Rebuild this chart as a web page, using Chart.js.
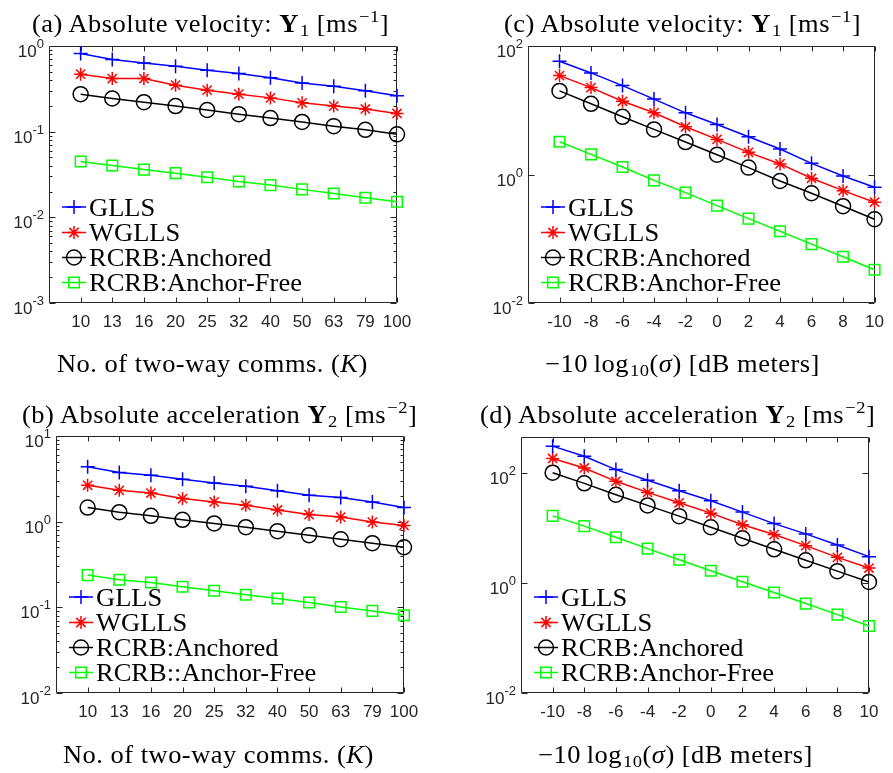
<!DOCTYPE html>
<html><head><meta charset="utf-8">
<script src="https://cdn.jsdelivr.net/npm/chart.js@4.4.1/dist/chart.umd.min.js"></script>
<style>
html,body{margin:0;padding:0;background:#fff;}
body{width:893px;height:773px;position:relative;overflow:hidden;}
canvas{position:absolute;}
.t{position:absolute;font-family:'Liberation Serif','Times New Roman',serif;font-size:25px;line-height:25px;white-space:nowrap;color:#000;transform:scaleX(1.06);transform-origin:0 0;letter-spacing:0.45px;}
.t sup,.t sub{font-size:17.5px;line-height:0;position:relative;vertical-align:baseline;}
.t sup{top:-10px;margin-left:1px;}
.t sub{top:4px;margin-left:1px;}
</style></head><body>
<canvas id="ca" width="445" height="390" style="left:0;top:0"></canvas>
<canvas id="cc" width="448" height="390" style="left:445px;top:0"></canvas>
<canvas id="cb" width="445" height="383" style="left:0;top:390px"></canvas>
<canvas id="cd" width="448" height="383" style="left:445px;top:390px"></canvas>

<div class="t" style="left:32px;top:11px">(a) Absolute velocity: <b>Y</b><sub>1</sub> [ms<sup>−1</sup>]</div>
<div class="t" style="left:504px;top:11px">(c) Absolute velocity: <b>Y</b><sub>1</sub> [ms<sup>−1</sup>]</div>
<div class="t" style="left:22px;top:402px">(b) Absolute acceleration <b>Y</b><sub>2</sub> [ms<sup>−2</sup>]</div>
<div class="t" style="left:480px;top:402px">(d) Absolute acceleration <b>Y</b><sub>2</sub> [ms<sup>−2</sup>]</div>
<div class="t" style="left:57px;top:351px">No. of two-way comms. (<i>K</i>)</div>
<div class="t" style="left:545px;top:351px">−10&#8201;log<sub>10</sub>(<i>σ</i>) [dB meters]</div>
<div class="t" style="left:63px;top:742px">No. of two-way comms. (<i>K</i>)</div>
<div class="t" style="left:538px;top:742px">−10&#8201;log<sub>10</sub>(<i>σ</i>) [dB meters]</div>

<script>
// ---------- data ----------
const kLabels = ['10','13','16','20','25','32','40','50','63','79','100'];
const kIndex = [0,1,2,3,4,5,6,7,8,9,10];
const sigmaTicks = [-10,-8,-6,-4,-2,0,2,4,6,8,10];
const sigmaLabels = ['-10','-8','-6','-4','-2','0','2','4','6','8','10'];

const seriesNames = ['GLLS','WGLLS','RCRB:Anchored','RCRB:Anchor-Free'];
const seriesNamesB = ['GLLS','WGLLS','RCRB:Anchored','RCRB::Anchor-Free'];

// (a) velocity vs K
const velK_GLLS  = [0.815,0.694,0.634,0.580,0.521,0.477,0.425,0.371,0.340,0.300,0.262];
const velK_WGLLS = [0.469,0.417,0.417,0.349,0.305,0.274,0.248,0.217,0.199,0.184,0.163];
const velK_Anch  = [0.274,0.244,0.221,0.199,0.179,0.160,0.144,0.130,0.116,0.105,0.093];
const velK_Free  = [0.0448,0.0402,0.0361,0.0328,0.0294,0.0262,0.0238,0.0212,0.0190,0.0169,0.0152];
// (b) acceleration vs K
const accK_GLLS  = [4.37,3.75,3.49,3.13,2.83,2.59,2.30,2.03,1.91,1.70,1.46];
const accK_WGLLS = [2.66,2.32,2.16,1.86,1.70,1.55,1.37,1.21,1.13,0.989,0.904];
const accK_Anch  = [1.46,1.29,1.17,1.05,0.953,0.863,0.775,0.695,0.624,0.561,0.503];
const accK_Free  = [0.238,0.210,0.195,0.174,0.156,0.140,0.127,0.114,0.101,0.0909,0.0809];
// (c) velocity vs sigma
const velS_GLLS  = [57.8,38.1,24.2,14.9,9.12,6.01,3.87,2.49,1.49,0.948,0.632];
const velS_WGLLS = [34.6,22.5,13.8,9.12,5.53,3.52,2.21,1.46,0.873,0.561,0.370];
const velS_Anch  = [20.0,12.6,7.91,5.03,3.20,2.03,1.28,0.793,0.510,0.321,0.201];
const velS_Free  = [3.23,2.06,1.31,0.811,0.522,0.328,0.206,0.131,0.0824,0.0524,0.0329];
// (d) acceleration vs sigma
const accS_GLLS  = [307,201,115,73.5,47.6,31.2,19.4,12.0,7.80,4.91,3.01];
const accS_WGLLS = [183,123,70.4,44.3,28.7,18.6,11.4,7.58,4.77,2.92,1.87];
const accS_Anch  = [101,64.7,40.2,25.7,16.4,10.3,6.50,4.09,2.58,1.64,1.04];
const accS_Free  = [16.6,10.8,6.78,4.21,2.65,1.67,1.05,0.670,0.422,0.266,0.165];

// y-axis decade exponents (tick labels 10^e)
const yExpA = [-3,-2,-1,0];
const yExpB = [-2,-1,0,1];
const yExpC = [-2,0,2];
const yExpD = [-2,0,2];

// ---------- styling ----------
const colors = ['#0000ff','#ff0000','#000000','#00ff00'];
const styles = ['cross','star','circle','rect'];
const radii = [7,6.5,7.5,7.5];
const AX = '#262626';
const LW = 1.5;

function drawMarker(ctx, style, x, y, r) {
  ctx.beginPath();
  if (style === 'cross' || style === 'star') {
    ctx.moveTo(x - r, y); ctx.lineTo(x + r, y);
    ctx.moveTo(x, y - r); ctx.lineTo(x, y + r);
    if (style === 'star') {
      const d = r * Math.SQRT1_2;
      ctx.moveTo(x - d, y - d); ctx.lineTo(x + d, y + d);
      ctx.moveTo(x - d, y + d); ctx.lineTo(x + d, y - d);
    }
  } else if (style === 'circle') {
    ctx.arc(x, y, r, 0, Math.PI * 2);
  } else {
    const s = r * Math.SQRT1_2;
    ctx.rect(x - s, y - s, 2 * s, 2 * s);
  }
  ctx.stroke();
}

function axesPlugin(p) {
  return {
    id: 'axes_' + p.id,
    beforeDatasetsDraw(chart) {
      const ctx = chart.ctx, a = chart.chartArea, xs = chart.scales.x, ys = chart.scales.y;
      const L = Math.round(a.left) + 0.5, R = Math.round(a.right) - 0.5;
      const T = Math.round(a.top) + 0.5, B = Math.round(a.bottom) - 0.5;
      ctx.save();
      ctx.strokeStyle = AX; ctx.lineWidth = 1;
      ctx.beginPath();
      ctx.rect(L, T, R - L, B - T);
      xs.ticks.forEach(t => {
        const x = Math.round(xs.getPixelForValue(t.value)) + 0.5;
        ctx.moveTo(x, B); ctx.lineTo(x, B - 5);
        ctx.moveTo(x, T); ctx.lineTo(x, T + 5);
      });
      p.yExp.forEach(e => {
        const y = Math.round(ys.getPixelForValue(Math.pow(10, e))) + 0.5;
        ctx.moveTo(L, y); ctx.lineTo(L + 6, y);
        ctx.moveTo(R, y); ctx.lineTo(R - 6, y);
      });
      if (p.minor) {
        const e0 = p.yExp[0], e1 = p.yExp[p.yExp.length - 1];
        for (let e = e0; e < e1; e++) {
          for (let m = 2; m <= 9; m++) {
            const y = Math.round(ys.getPixelForValue(m * Math.pow(10, e))) + 0.5;
            ctx.moveTo(L, y); ctx.lineTo(L + 3, y);
            ctx.moveTo(R, y); ctx.lineTo(R - 3, y);
          }
        }
      }
      ctx.stroke();
      ctx.restore();
    },
    afterDraw(chart) {
      const ctx = chart.ctx, a = chart.chartArea, ys = chart.scales.y;
      ctx.save();
      // y tick labels 10^e
      ctx.fillStyle = AX;
      ctx.textAlign = 'right';
      ctx.textBaseline = 'alphabetic';
      p.yExp.forEach(e => {
        const y = ys.getPixelForValue(Math.pow(10, e));
        const es = String(e);
        ctx.font = '13px "Liberation Sans", Arial, sans-serif';
        const ew = ctx.measureText(es).width;
        ctx.fillText(es, a.left - 5, y + 2);
        ctx.font = '17px "Liberation Sans", Arial, sans-serif';
        ctx.fillText('10', a.left - 5 - ew, y + 11);
      });
      // legend
      const offs = [-96, -70.5, -45.5, -20.5];
      chart.data.datasets.forEach((ds, i) => {
        const y = a.bottom + offs[i];
        const x0 = a.left + 13, x1 = a.left + 37;
        ctx.strokeStyle = colors[i]; ctx.lineWidth = LW;
        ctx.beginPath(); ctx.moveTo(x0, y); ctx.lineTo(x1, y); ctx.stroke();
        drawMarker(ctx, styles[i], (x0 + x1) / 2, y, radii[i]);
        ctx.save();
        ctx.fillStyle = '#000';
        ctx.textAlign = 'left';
        ctx.font = '25px "Liberation Serif", "Times New Roman", serif';
        ctx.translate(a.left + 40, y + 8.5);
        ctx.scale(1.06, 1);
        ctx.fillText(ds.label, 0, 0);
        ctx.restore();
      });
      ctx.restore();
    }
  };
}

function makePanel(p) {
  const datasets = p.series.map((vals, i) => ({
    label: p.names[i],
    data: vals.map((v, j) => ({ x: p.xValues[j], y: v })),
    borderColor: colors[i],
    backgroundColor: 'rgba(0,0,0,0)',
    pointBackgroundColor: 'rgba(0,0,0,0)',
    pointBorderColor: colors[i],
    pointStyle: styles[i],
    pointRadius: radii[i],
    pointHoverRadius: radii[i],
    pointBorderWidth: LW,
    borderWidth: LW,
    tension: 0,
    clip: false
  }));
  new Chart(document.getElementById(p.id), {
    type: 'line',
    data: { datasets },
    options: {
      responsive: false, animation: false, devicePixelRatio: 1, events: [],
      layout: { padding: { left: 0, top: p.area.t, right: p.W - p.area.r, bottom: 0 } },
      plugins: { legend: { display: false }, tooltip: { enabled: false }, title: { display: false } },
      scales: {
        x: {
          type: 'linear', min: p.xmin, max: p.xmax, bounds: 'data',
          grid: { display: false, drawTicks: false }, border: { display: false },
          afterBuildTicks: s => { s.ticks = p.xTicks.map(v => ({ value: v })); },
          afterFit: s => { s.height = p.H - p.area.b; },
          ticks: {
            autoSkip: false, maxRotation: 0, minRotation: 0, padding: 9, color: AX,
            font: { family: '"Liberation Sans", Arial, sans-serif', size: 17 },
            callback: (v, i) => p.xTickLabels[i]
          }
        },
        y: {
          type: 'logarithmic', min: p.ymin, max: p.ymax,
          grid: { display: false, drawTicks: false }, border: { display: false },
          ticks: { display: false },
          afterFit: s => { s.width = p.area.l; }
        }
      }
    },
    plugins: [axesPlugin(p)]
  });
}

makePanel({ id: 'ca', W: 445, H: 390, area: { l: 49, t: 46, r: 397, b: 303 },
  xValues: kIndex, xTicks: kIndex, xTickLabels: kLabels, xmin: -1, xmax: 10,
  ymin: 1e-3, ymax: 1, yExp: yExpA, minor: true,
  names: seriesNames, series: [velK_GLLS, velK_WGLLS, velK_Anch, velK_Free] });
makePanel({ id: 'cc', W: 448, H: 390, area: { l: 83, t: 46, r: 432, b: 303 },
  xValues: sigmaTicks, xTicks: sigmaTicks, xTickLabels: sigmaLabels, xmin: -12, xmax: 10,
  ymin: 1e-2, ymax: 100, yExp: yExpC, minor: false,
  names: seriesNames, series: [velS_GLLS, velS_WGLLS, velS_Anch, velS_Free] });
makePanel({ id: 'cb', W: 445, H: 383, area: { l: 56, t: 46, r: 404, b: 303 },
  xValues: kIndex, xTicks: kIndex, xTickLabels: kLabels, xmin: -1, xmax: 10,
  ymin: 1e-2, ymax: 10, yExp: yExpB, minor: true,
  names: seriesNamesB, series: [accK_GLLS, accK_WGLLS, accK_Anch, accK_Free] });
makePanel({ id: 'cd', W: 448, H: 383, area: { l: 76, t: 47, r: 424, b: 303 },
  xValues: sigmaTicks, xTicks: sigmaTicks, xTickLabels: sigmaLabels, xmin: -12, xmax: 10,
  ymin: 1e-2, ymax: 450, yExp: yExpD, minor: false,
  names: seriesNames, series: [accS_GLLS, accS_WGLLS, accS_Anch, accS_Free] });
</script>
</body></html>
